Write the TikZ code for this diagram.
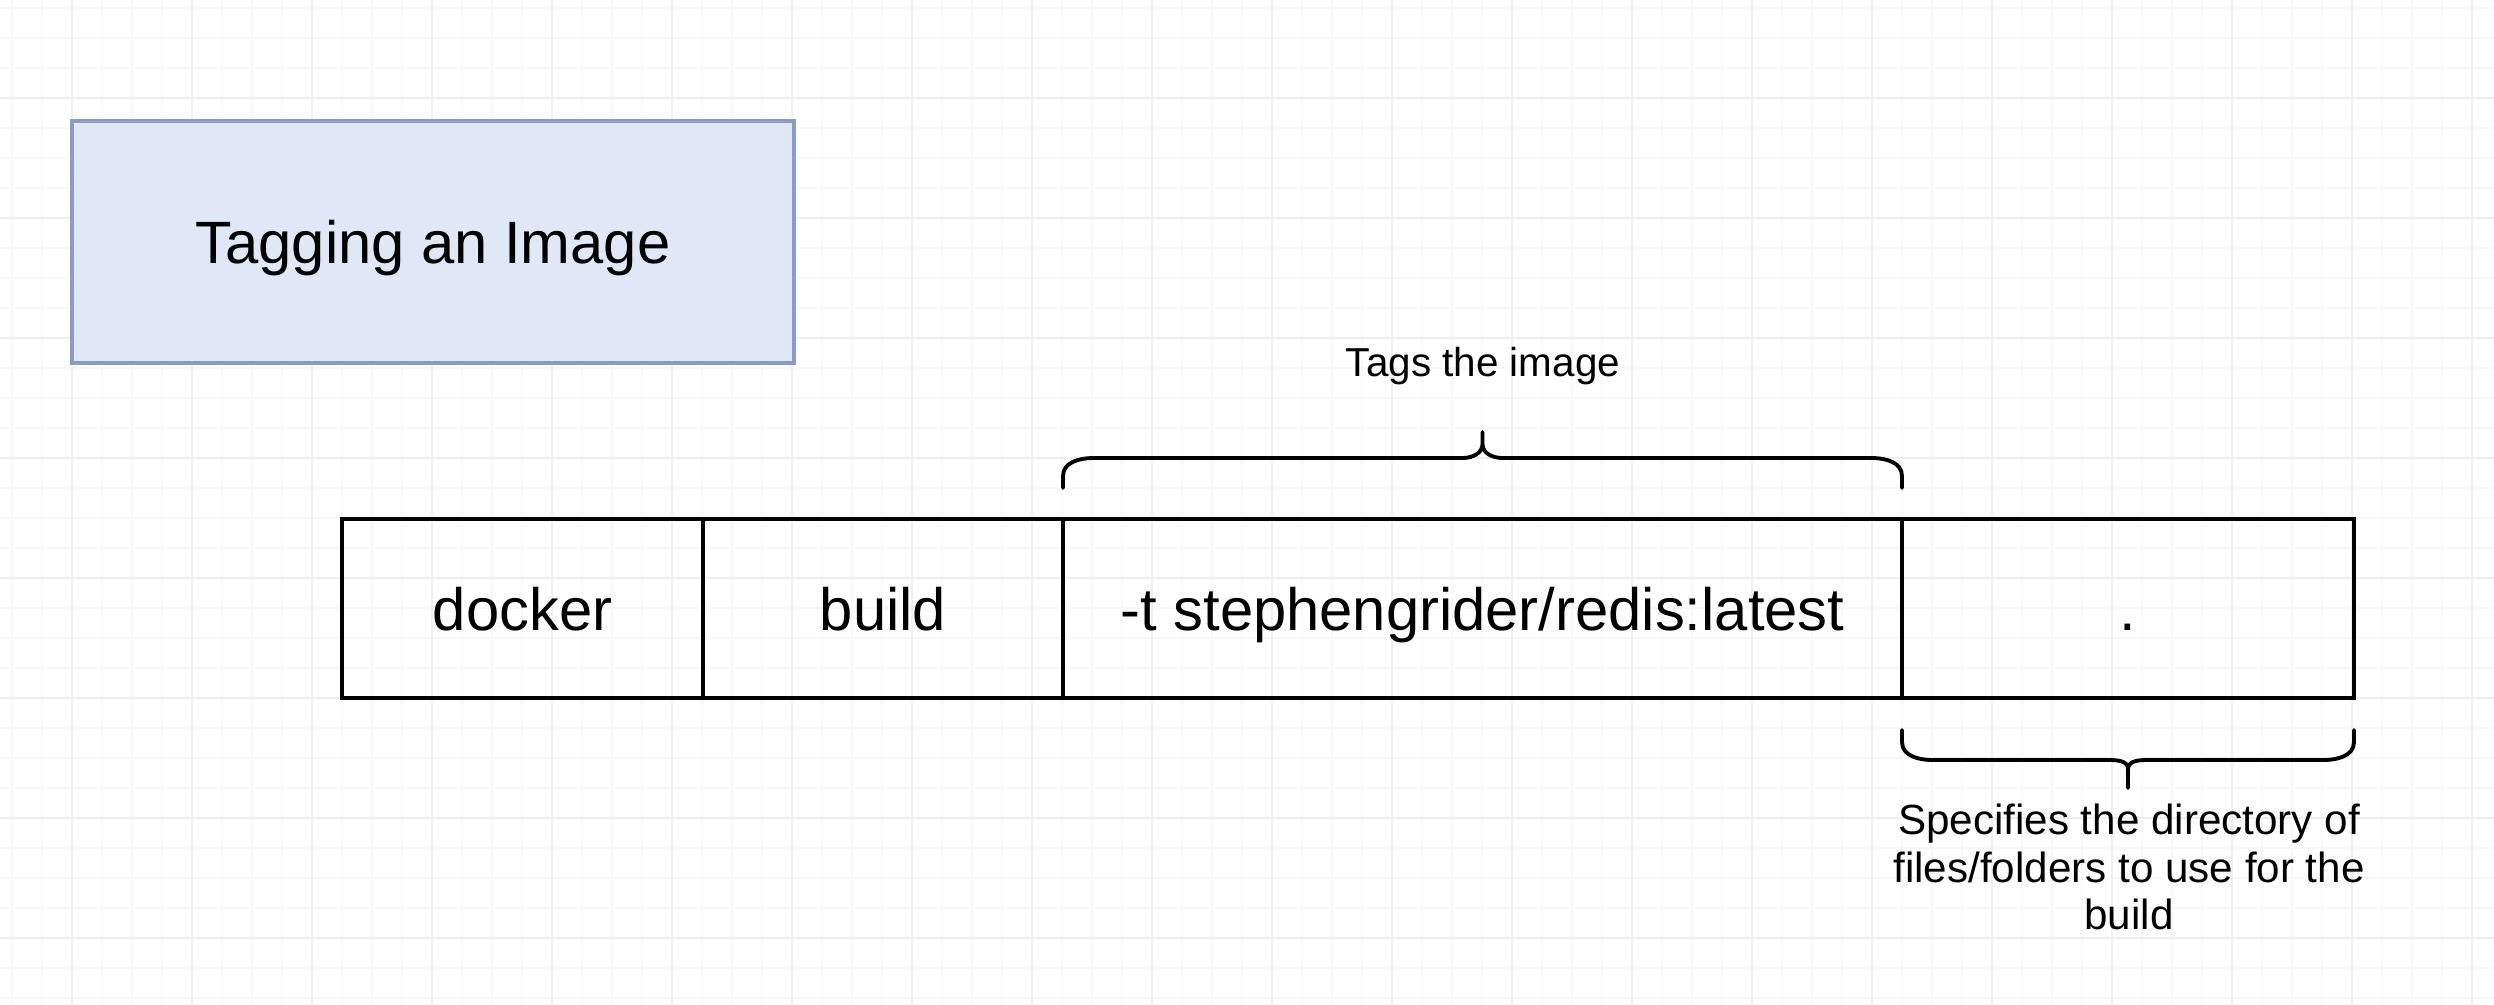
\documentclass[tikz,border=0pt]{standalone}
\usepackage{fontspec}
\setmainfont{Liberation Sans}
\usetikzlibrary{positioning,calc}
\definecolor{titlefill}{RGB}{224,231,247}
\definecolor{titleline}{RGB}{138,156,196}
\definecolor{gridminor}{RGB}{247,247,247}
\definecolor{gridmajor}{RGB}{238,238,238}
\begin{document}
\begin{tikzpicture}[
    cell/.style={draw, line width=1.4pt, minimum height=1.79cm, inner sep=0pt, outer sep=0pt, text height=0.5cm, text depth=0.07cm, font=\fontsize{17}{20}\selectfont},
    titlebox/.style={draw=titleline, fill=titlefill, line width=1pt, minimum width=7.22cm, minimum height=2.42cm, text height=0.5cm, text depth=0.07cm, font=\fontsize{17}{20}\selectfont},
    note/.style={align=center, font=\fontsize{12}{13.5}\selectfont},
    bracket/.style={line width=1.1pt, line cap=round, line join=round}
]
    % Background grid
    \useasboundingbox (0,0) rectangle (24.94,-10.04);
    \begin{scope}
        \clip (0,0) rectangle (24.94,-10.04);
        \fill[white] (0,0) rectangle (24.94,-10.04);
        \draw[gridminor, line width=0.4pt, shift={(0.12,-0.08)}, step=0.3] (-1,-11) grid (26,1);
        \draw[gridmajor, line width=0.5pt, shift={(0.72,-0.98)}, step=1.2] (-1,-11) grid (26,1);
    \end{scope}

    % Title
    \node[titlebox] (title) at (4.33,-2.42) {Tagging an Image};

    % Command cells
    \node[cell, minimum width=3.61cm] (docker) at (5.225,-6.085) {docker};
    \node[cell, minimum width=3.60cm, right=0pt of docker] (build) {build};
    \node[cell, minimum width=8.39cm, right=0pt of build] (tag) {-t stephengrider/redis:latest};
    \node[cell, minimum width=4.52cm, right=0pt of tag] (dot) {.};

    % Braces
    \draw[bracket] ($(tag.north west)+(0,0.31)$) -- ++(0,0.12)
        to[out=90,in=180] ++(0.3,0.18) -- ++(3.695,0)
        to[out=0,in=-90] ++(0.2,0.14) -- ++(0,0.12) ++(0,-0.12)
        to[out=-90,in=180] ++(0.2,-0.14) -- ++(3.695,0)
        to[out=0,in=90] ++(0.3,-0.18) -- ++(0,-0.12);
    \draw[bracket] ($(dot.south west)+(0,-0.32)$) -- ++(0,-0.12)
        to[out=-90,in=180] ++(0.3,-0.18) -- ++(1.76,0)
        to[out=0,in=90] ++(0.2,-0.09) -- ++(0,-0.19) ++(0,0.19)
        to[out=90,in=180] ++(0.2,0.09) -- ++(1.76,0)
        to[out=0,in=-90] ++(0.3,0.18) -- ++(0,0.12);

    % Notes
    \node[note, font=\fontsize{11.5}{13}\selectfont] (tagnote) at (14.83,-3.66) {Tags the image};
    \node[note] (dirnote) at (21.29,-8.67) {Specifies the directory of\\files/folders to use for the\\build};
\end{tikzpicture}
\end{document}
